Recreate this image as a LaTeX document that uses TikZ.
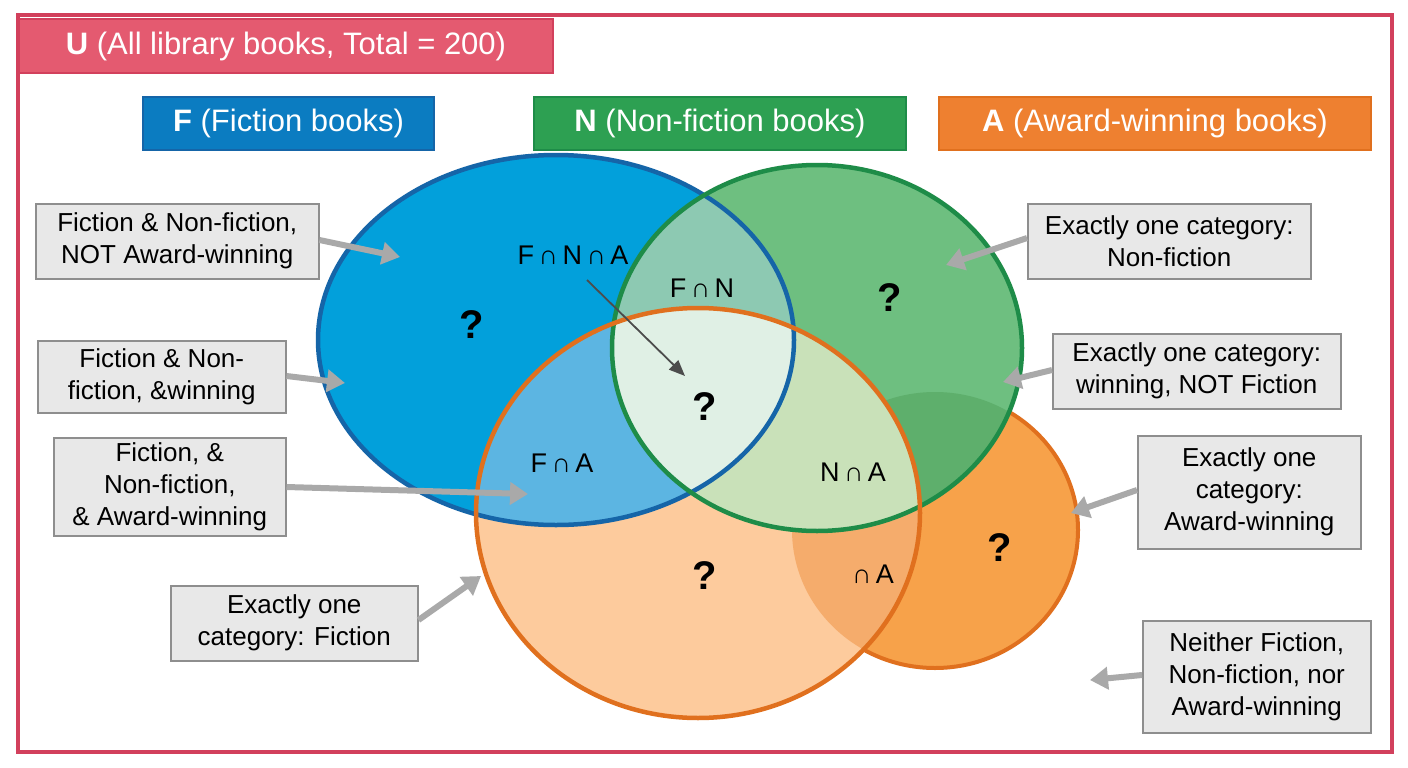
\documentclass[tikz,border=0pt]{standalone}
\usepackage{fontspec}
\setmainfont{Liberation Sans}
\usetikzlibrary{arrows.meta}
\definecolor{frameR}{HTML}{D2405C}
\definecolor{headR}{HTML}{E45A70}
\definecolor{fBlue}{HTML}{02A0DB}
\definecolor{bBlue}{HTML}{1565A8}
\definecolor{fGreen}{HTML}{6EBF80}
\definecolor{bGreen}{HTML}{1E8C48}
\definecolor{fOrA}{HTML}{FDCB9D}
\definecolor{fOrE}{HTML}{F7A24A}
\definecolor{fOrEA}{HTML}{F5AC6C}
\definecolor{bOr}{HTML}{E0701E}
\definecolor{gE}{HTML}{5EAF6C}
\definecolor{cFN}{HTML}{8DC9B2}
\definecolor{cFA}{HTML}{5CB5E2}
\definecolor{cNA}{HTML}{C9E1B9}
\definecolor{cFNA}{HTML}{E0F0E5}
\definecolor{boxF}{HTML}{0B7CC1}
\definecolor{boxN}{HTML}{2DA052}
\definecolor{boxA}{HTML}{EE8030}
\definecolor{callG}{HTML}{E8E8E8}
\definecolor{callB}{HTML}{8E8E8E}
\definecolor{arrG}{HTML}{A9A9A9}
\def\Fp{(556,340) ellipse (238 and 185)}
\def\Np{(817,348) ellipse (205 and 183)}
\def\Ap{(698,513) ellipse (222 and 205)}
\def\Ep{(935,530) ellipse (143 and 138)}
\begin{document}
\begin{tikzpicture}[x=1pt,y=-1pt,
  call/.style={draw=callB,fill=callG,line width=1.5pt,align=center,inner sep=0pt,
     font=\fontsize{26}{32}\selectfont},
  hdr/.style={line width=2pt,text=white,inner sep=0pt,font=\fontsize{31}{36}\selectfont},
  arr/.style={draw=arrG,line width=6pt,-{Triangle[length=18pt,width=22pt]}},
  lab/.style={font=\fontsize{27}{30}\selectfont},
  qm/.style={font=\bfseries\fontsize{40}{44}\selectfont}]
\useasboundingbox (0,0) rectangle (1408,768);
\fill[white] (0,0) rectangle (1408,768);
\draw[frameR,line width=4pt] (18,15) rectangle (1392,752);
% shapes
\filldraw[fill=fOrE,draw=bOr,line width=4pt] \Ep;
\fill[fOrA] \Ap;
\begin{scope}\clip \Ap; \fill[fOrEA] \Ep; \end{scope}
\fill[fBlue] \Fp;
\fill[fGreen] \Np;
\begin{scope}\clip \Np; \fill[gE] \Ep; \end{scope}
\begin{scope}\clip \Fp; \fill[cFN] \Np; \end{scope}
\begin{scope}\clip \Fp; \fill[cFA] \Ap; \end{scope}
\begin{scope}\clip \Np; \fill[cNA] \Ap; \end{scope}
\begin{scope}\clip \Fp; \clip \Np; \fill[cFNA] \Ap; \end{scope}
\draw[bBlue,line width=4.5pt] \Fp;
\draw[bGreen,line width=4.5pt] \Np;
\draw[bOr,line width=4.5pt] \Ap;
% header
\node[hdr,draw=frameR,fill=headR,minimum width=534,minimum height=54,anchor=north west] (U) at (18,18) {\textbf{U} (All library books, Total = 200)};
\node[hdr,draw=bBlue,fill=boxF,minimum width=291,minimum height=53,anchor=north west] (FB) at (142,96) {\textbf{F} (Fiction books)};
\node[hdr,draw=bGreen,fill=boxN,minimum width=372,minimum height=53,anchor=north west] (NB) at (533,96) {\textbf{N} (Non-fiction books)};
\node[hdr,draw=bOr,fill=boxA,minimum width=432,minimum height=53,anchor=north west] (AB) at (938,96) {\textbf{A} (Award-winning books)};
% region labels
\node[lab] (lFNA) at (573,255) {F\,∩\,N\,∩\,A};
\node[lab] (lFN) at (702,288) {F\,∩\,N};
\node[lab] (lFA) at (562,463) {F\,∩\,A};
\node[lab] (lNA) at (853,472) {N\,∩\,A};
\node[lab] (lA) at (873,574) {∩\,A};
\node[qm] (q1) at (472,325) {?};
\node[qm] (q2) at (890,298) {?};
\node[qm] (q3) at (705,407) {?};
\node[qm] (q4) at (705,576) {?};
\node[qm] (q5) at (1000,548) {?};
\coordinate (tFNA) at (685,376);
\draw[draw=black!70,line width=1.8pt,-{Triangle[length=16pt,width=13pt]}] (587,280) -- (tFNA);
% callouts
\node[call,minimum width=283,minimum height=75,anchor=north west] (c1) at (35,203) {Fiction \& Non-fiction,\\NOT Award-winning};
\node[call,minimum width=248,minimum height=72,anchor=north west] (c2) at (37,340) {Fiction \& Non-\\fiction, \&winning};
\node[call,minimum width=232,minimum height=98,anchor=north west] (c3) at (53,437) {Fiction, \&\\Non-fiction,\\\& Award-winning};
\node[call,minimum width=247,minimum height=75,anchor=north west] (c4) at (170,585) {Exactly one\\category: Fiction};
\node[call,minimum width=283,minimum height=75,anchor=north west] (c5) at (1027,203) {Exactly one category:\\Non-fiction};
\node[call,minimum width=288,minimum height=75,anchor=north west] (c6) at (1052,333) {Exactly one category:\\winning, NOT Fiction};
\node[call,minimum width=223,minimum height=113,anchor=north west] (c7) at (1137,435) {Exactly one\\category:\\Award-winning};
\node[call,minimum width=228,minimum height=112,anchor=north west] (c8) at (1142,620) {Neither Fiction,\\Non-fiction, nor\\Award-winning};
\coordinate (t1) at (400,257);
\coordinate (t2) at (345,383);
\coordinate (t3) at (528,494);
\coordinate (t4) at (481,576);
\coordinate (t5) at (946,265);
\coordinate (t6) at (1003,382);
\coordinate (t7) at (1071,513);
\coordinate (t8) at (1090,680);
\draw[arr] (c1.east |- 0,240) -- (t1);
\draw[arr] (c2.east |- 0,376) -- (t2);
\draw[arr] (c3.east |- 0,487) -- (t3);
\draw[arr] (c4.east |- 0,620) -- (t4);
\draw[arr] (c5.west |- 0,238) -- (t5);
\draw[arr] (c6.west |- 0,370) -- (t6);
\draw[arr] (c7.west |- 0,490) -- (t7);
\draw[arr] (c8.west |- 0,675) -- (t8);
\end{tikzpicture}
\end{document}
